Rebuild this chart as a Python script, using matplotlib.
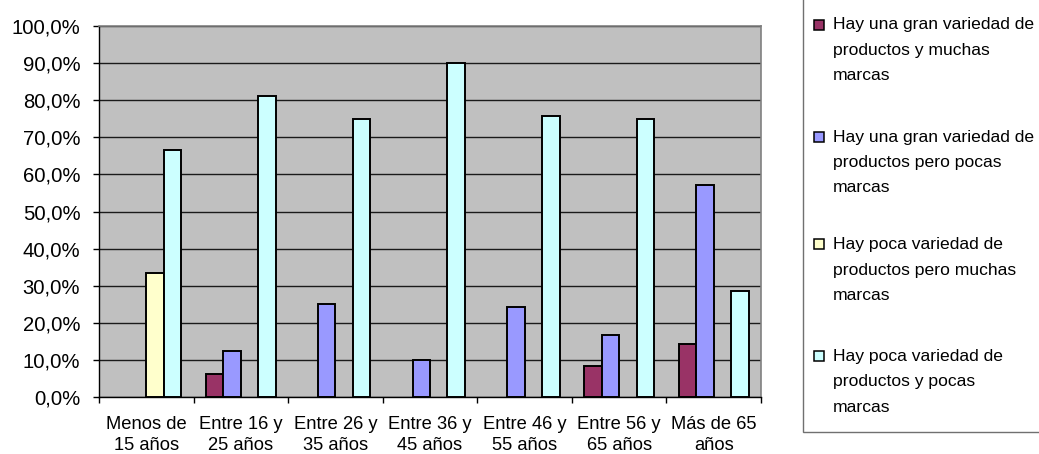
import numpy as np
import matplotlib
matplotlib.use("Agg")
import matplotlib.pyplot as plt
from matplotlib.patches import Rectangle
from matplotlib.ticker import FuncFormatter, MultipleLocator

plt.rcParams['font.family'] = ['Liberation Sans', 'DejaVu Sans']

# Age groups (x axis)
categories = ["Menos de\n15 años", "Entre 16 y\n25 años", "Entre 26 y\n35 años",
              "Entre 36 y\n45 años", "Entre 46 y\n55 años", "Entre 56 y\n65 años",
              "Más de 65\naños"]

# Share of answers per age group (%)
gran_var_muchas = [0.0, 6.25, 0.0, 0.0, 0.0, 8.3, 14.3]
gran_var_pocas = [0.0, 12.5, 25.0, 10.0, 24.2, 16.7, 57.1]
poca_var_muchas = [33.3, 0.0, 0.0, 0.0, 0.0, 0.0, 0.0]
poca_var_pocas = [66.7, 81.25, 75.0, 90.0, 75.8, 75.0, 28.6]

series_labels = [
    "Hay una gran variedad de\nproductos y muchas\nmarcas",
    "Hay una gran variedad de\nproductos pero pocas\nmarcas",
    "Hay poca variedad de\nproductos pero muchas\nmarcas",
    "Hay poca variedad de\nproductos y pocas\nmarcas",
]
series_colors = ["#993366", "#9999FF", "#FFFFCC", "#CCFFFF"]
series_values = [gran_var_muchas, gran_var_pocas, poca_var_muchas, poca_var_pocas]

W, H = 1039, 454
fig = plt.figure(figsize=(W / 100, H / 100), dpi=100)
fig.patch.set_facecolor("white")


def fpx(x, y):
    """Pixel position (origin top-left) -> figure fraction."""
    return x / W, 1 - y / H


left, right, top, bottom = 99, 761, 26, 397
ax = fig.add_axes([left / W, 1 - bottom / H, (right - left) / W, (bottom - top) / H])
ax.set_facecolor("#C0C0C0")

x = np.arange(len(categories))
bw = 0.185
offsets = (np.arange(4) - 1.5) * bw
for vals, off, col in zip(series_values, offsets, series_colors):
    vals = np.asarray(vals, dtype=float)
    m = vals > 0
    ax.bar(x[m] + off, vals[m], width=bw, color=col, edgecolor="black",
           linewidth=1.4, zorder=3)

ax.set_xlim(-0.5, len(categories) - 0.5)
ax.set_ylim(0, 100)

ax.yaxis.set_major_locator(MultipleLocator(10))
ax.yaxis.set_major_formatter(FuncFormatter(lambda v, p: f"{v:.1f}%".replace(".", ",")))
ax.grid(axis="y", color="#1a1a1a", linewidth=1.0, zorder=1)
ax.set_axisbelow(True)

# group labels centred under each group, tick marks at group boundaries
ax.set_xticks(x)
ax.set_xticklabels(categories, linespacing=1.3)
ax.set_xticks(np.arange(len(categories) + 1) - 0.5, minor=True)
ax.tick_params(axis="x", which="major", length=0, pad=14.0, labelsize=13.2)
ax.tick_params(axis="x", which="minor", length=4, width=1, direction="out", color="black")
ax.tick_params(axis="y", which="major", length=4, width=1, direction="out",
               color="black", pad=9.5, labelsize=14.6)

for s in ("left", "bottom"):
    ax.spines[s].set_color("black")
    ax.spines[s].set_linewidth(1.0)
for s in ("top", "right"):
    ax.spines[s].set_color("#808080")
    ax.spines[s].set_linewidth(1.2)

# legend box (extends past the right/top edge)
x0, y0 = fpx(802.7, 431.7)
fig.add_artist(Rectangle((x0, y0), 0.5, 1.2, transform=fig.transFigure,
                         facecolor="white", edgecolor="#707070", linewidth=1.0))

first_baselines = [29.5, 141.7, 249.3, 361.0]
line_step = 25.3
for lab, col, base in zip(series_labels, series_colors, first_baselines):
    sx, sy = fpx(814, base)
    fig.add_artist(Rectangle((sx, sy), 10 / W, 10 / H, transform=fig.transFigure,
                             facecolor=col, edgecolor="black", linewidth=1.1))
    for i, line in enumerate(lab.split("\n")):
        tx, ty = fpx(833, base + i * line_step)
        fig.text(tx, ty, line, fontsize=12.6, va="baseline", ha="left")

fig.savefig("out.png", dpi=100)
